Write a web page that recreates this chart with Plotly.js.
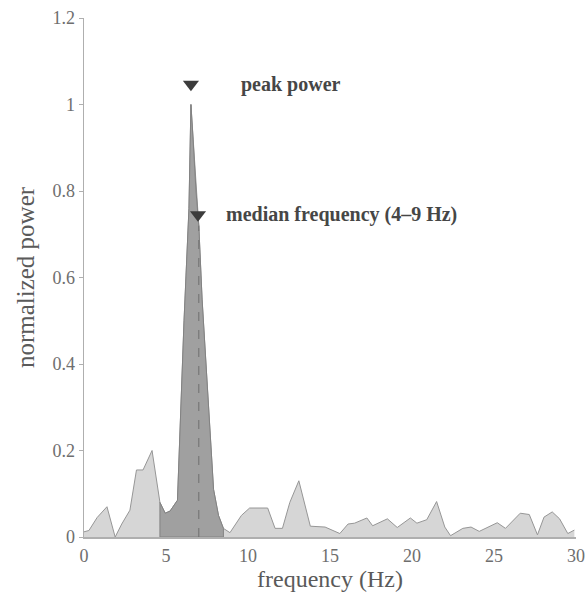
<!DOCTYPE html>
<html>
<head>
<meta charset="utf-8">
<script src="https://cdn.plot.ly/plotly-3.0.1.min.js"></script>
<style>html,body{margin:0;padding:0;background:#fff;}#chart{width:586px;height:600px;}</style>
</head>
<body>
<div id="chart"></div>
<script>
// Spectrum
const freq = [0, 0.3, 0.8, 1.4, 1.9, 2.3, 2.8, 3.2, 3.6, 4.15, 4.63, 4.95, 5.25, 5.7, 6.1, 6.4, 6.52, 6.65, 6.83, 7.0, 7.2, 7.9, 8.2, 8.5, 8.9, 9.6, 10.1, 11.2, 11.65, 12.1, 12.55, 13.1, 13.8, 14.7, 15.6, 16.1, 16.5, 17.25, 17.6, 18.5, 19.1, 19.9, 20.3, 20.9, 21.5, 21.8, 22.0, 22.35, 23.1, 23.6, 24.1, 25.2, 25.7, 26.6, 27.15, 27.65, 28.05, 28.55, 29.0, 29.5, 29.9];
const power = [0.012, 0.015, 0.045, 0.07, 0.0, 0.03, 0.062, 0.155, 0.155, 0.2, 0.08, 0.055, 0.06, 0.085, 0.5, 0.76, 1.0, 0.92, 0.80, 0.72, 0.55, 0.11, 0.05, 0.02, 0.01, 0.05, 0.067, 0.067, 0.02, 0.02, 0.08, 0.13, 0.025, 0.023, 0.008, 0.03, 0.032, 0.044, 0.026, 0.042, 0.022, 0.044, 0.032, 0.04, 0.082, 0.047, 0.023, 0.003, 0.02, 0.023, 0.013, 0.033, 0.02, 0.055, 0.052, 0.005, 0.046, 0.058, 0.042, 0.008, 0.016];

const bandLow = 4.63;   // shaded band start
const bandHigh = 8.5;   // shaded band end
const peakFreq = 6.52, peakMarkerY = 1.047;
const medianFreq = 6.95, medianMarkerY = 0.745;
const medianLineX = 7.0;
const peakLabel = "peak power";
const medianLabel = "median frequency (4–9 Hz)";
const xTicks = [0, 5, 10, 15, 20, 25, 30];
const yTicks = [0, 0.2, 0.4, 0.6, 0.8, 1, 1.2];
const yTickText = ["0", "0.2", "0.4", "0.6", "0.8", "1", "1.2"];

// band polygon built from the data
const bx = [bandLow], by = [0];
freq.forEach((f, i) => { if (f >= bandLow && f <= bandHigh) { bx.push(f); by.push(power[i]); } });
bx.push(bandHigh, bandLow); by.push(0, 0);

// value of the curve at the median line
function interp(x){ for(let i=1;i<freq.length;i++){ if(freq[i]>=x){ const t=(x-freq[i-1])/(freq[i]-freq[i-1]); return power[i-1]+t*(power[i]-power[i-1]); } } return 0; }

const lineCol = 'rgb(150,150,150)';
const traces = [
  {x: freq, y: power, type: 'scatter', mode: 'lines', fill: 'tozeroy',
   fillcolor: 'rgb(214,214,214)', line: {color: lineCol, width: 1}, hoverinfo: 'skip'},
  {x: bx, y: by, type: 'scatter', mode: 'lines', fill: 'toself',
   fillcolor: 'rgb(160,160,160)', line: {color: 'rgb(130,130,130)', width: 1}, hoverinfo: 'skip'},
  {x: [medianLineX, medianLineX], y: [0, interp(medianLineX)], type: 'scatter', mode: 'lines',
   line: {color: 'rgb(110,110,110)', width: 1, dash: 'dash'}, hoverinfo: 'skip'},
  {x: [peakFreq, medianFreq], y: [peakMarkerY, medianMarkerY], type: 'scatter', mode: 'markers',
   marker: {symbol: 'triangle-down', size: 14, color: 'rgb(60,60,60)'}, hoverinfo: 'skip'}
];

const font = 'Liberation Serif, Times New Roman, serif';
const layout = {
  width: 586, height: 600,
  margin: {l: 84, r: 10, t: 18, b: 63},
  paper_bgcolor: '#fff', plot_bgcolor: '#fff',
  showlegend: false,
  font: {family: font, color: 'rgb(110,110,110)', size: 18},
  xaxis: {range: [0, 30], tickvals: xTicks, ticktext: xTicks.map(String), showgrid: false, zeroline: false,
          showline: true, linecolor: 'rgb(175,175,175)', linewidth: 1.5, ticks: '', ticklen: 0,
          ticklabelstandoff: 2,
          tickfont: {family: font, size: 18, color: 'rgb(110,110,110)'},
          title: {text: 'frequency (Hz)', font: {family: font, size: 24, color: 'rgb(90,90,90)'}, standoff: 4}},
  yaxis: {range: [0, 1.2], tickvals: yTicks, ticktext: yTickText, showgrid: false, zeroline: false,
          showline: true, linecolor: 'rgb(175,175,175)', linewidth: 1.5, ticks: 'outside', ticklen: 4,
          tickcolor: 'rgb(175,175,175)',
          tickfont: {family: font, size: 18, color: 'rgb(110,110,110)'},
          title: {text: 'normalized power', font: {family: font, size: 25, color: 'rgb(90,90,90)'}, standoff: 10}},
  annotations: [
    {x: 9.45, y: peakMarkerY, xref: 'x', yref: 'y', text: '<b>' + peakLabel + '</b>', showarrow: false,
     xanchor: 'left', yanchor: 'middle', font: {family: font, size: 20, color: 'rgb(70,70,70)'}},
    {x: 8.55, y: medianMarkerY, xref: 'x', yref: 'y', text: '<b>' + medianLabel + '</b>', showarrow: false,
     xanchor: 'left', yanchor: 'middle', font: {family: font, size: 20, color: 'rgb(70,70,70)'}}
  ]
};
Plotly.newPlot('chart', traces, layout, {displayModeBar: false, staticPlot: true});
</script>
</body>
</html>
